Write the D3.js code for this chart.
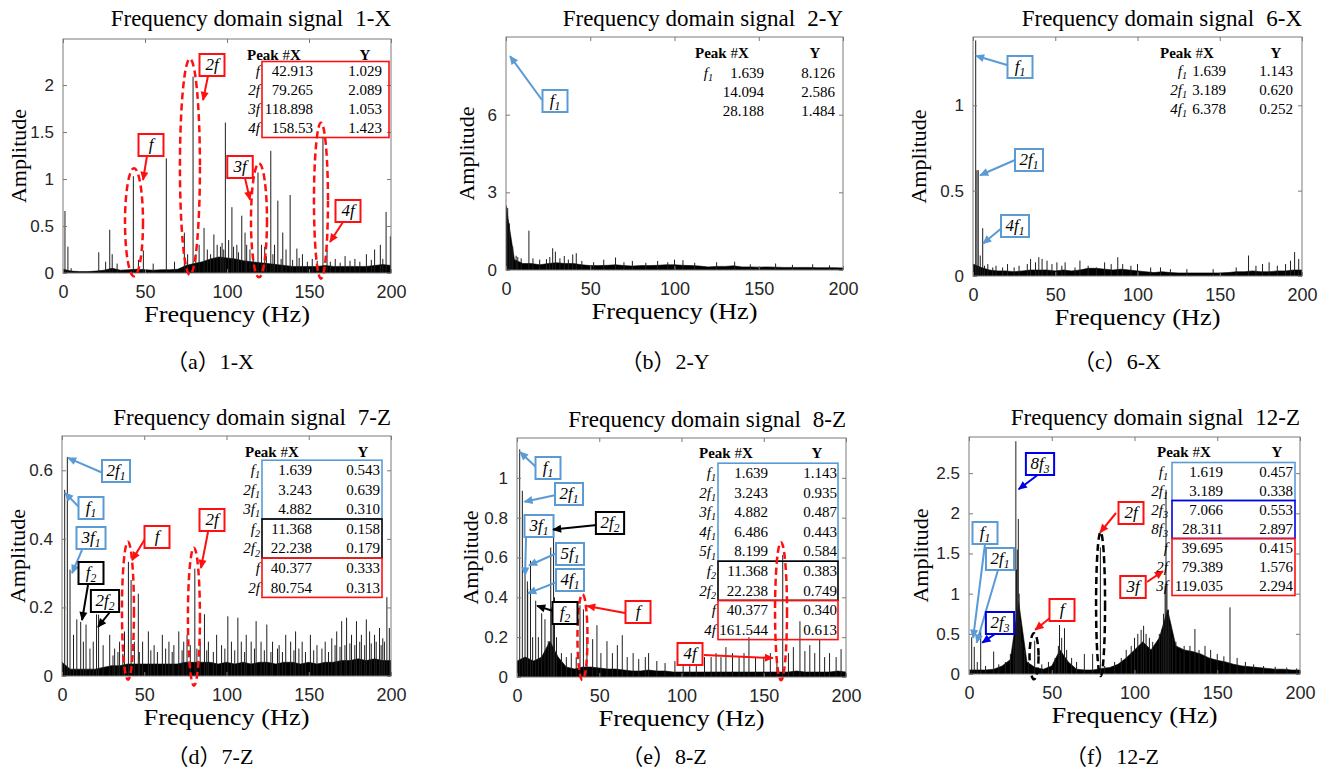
<!DOCTYPE html>
<html>
<head>
<meta charset="utf-8">
<script src="https://cdn.jsdelivr.net/npm/d3@7"></script>
<style>
  body { margin: 0; background: #fff; }
  svg text { font-family: "Liberation Serif", "Times New Roman", serif; fill: #000; }
  .tick text { font-family: "Liberation Sans", Arial, sans-serif; fill: #262626; }
  .tick line { stroke: #7a7a7a; }
</style>
</head>
<body>
<svg id="chart" width="1325" height="774"></svg>
<script>
// ---------- data ----------
const xTicks = [0, 50, 100, 150, 200];
const gridHz = d3.range(0, 201, 5); // noise floor sampled every 5 Hz

// noise floor (solid part of the band), one value per 5 Hz
const floor1X = [0.04,0.02,0.015,0.015,0.02,0.03,0.05,0.03,0.035,0.04,0.035,0.03,0.035,0.035,0.04,0.08,0.1,0.12,0.15,0.17,0.16,0.15,0.13,0.12,0.11,0.1,0.09,0.08,0.07,0.07,0.07,0.07,0.08,0.07,0.07,0.07,0.07,0.07,0.08,0.09,0.08];
const floor2Y = [2.5,0.4,0.25,0.25,0.2,0.25,0.28,0.25,0.25,0.2,0.17,0.17,0.18,0.2,0.17,0.15,0.17,0.17,0.18,0.2,0.2,0.18,0.17,0.15,0.12,0.14,0.14,0.16,0.12,0.12,0.11,0.12,0.11,0.1,0.1,0.1,0.1,0.09,0.09,0.09,0.08];
const floor6X = [0.07,0.05,0.035,0.03,0.03,0.025,0.03,0.035,0.035,0.035,0.03,0.035,0.03,0.035,0.045,0.045,0.04,0.035,0.04,0.035,0.03,0.025,0.02,0.025,0.02,0.018,0.018,0.018,0.018,0.018,0.018,0.02,0.025,0.025,0.03,0.025,0.025,0.03,0.03,0.035,0.035];
const floor7Z = [0.04,0.02,0.02,0.02,0.02,0.025,0.03,0.03,0.035,0.035,0.035,0.035,0.035,0.035,0.035,0.04,0.04,0.04,0.04,0.035,0.04,0.035,0.04,0.035,0.04,0.04,0.035,0.04,0.04,0.035,0.04,0.035,0.04,0.04,0.045,0.045,0.05,0.045,0.05,0.045,0.045];
const floor8Z = [0.08,0.1,0.08,0.1,0.18,0.1,0.05,0.04,0.05,0.05,0.045,0.04,0.04,0.035,0.03,0.03,0.035,0.03,0.03,0.025,0.025,0.025,0.025,0.025,0.025,0.025,0.025,0.025,0.025,0.025,0.025,0.025,0.025,0.025,0.03,0.025,0.025,0.025,0.025,0.03,0.025];
const floor12Z = [0.05,0.05,0.05,0.06,0.1,0.18,0.9,0.15,0.08,0.06,0.1,0.3,0.15,0.06,0.05,0.05,0.07,0.08,0.12,0.2,0.3,0.4,0.3,0.45,0.8,0.35,0.3,0.28,0.25,0.2,0.17,0.15,0.12,0.1,0.09,0.08,0.07,0.06,0.06,0.05,0.05];

// spectral lines [frequency Hz, amplitude]
const spikes1X = [[1.2,0.66],[3,0.28],[5,0.05],[21.8,0.22],[26,0.12],[28.5,0.46],[30,0.2],[33,0.1],[42.9,1.03],[46,0.14],[49,0.24],[55,0.1],[63,1.22],[68,0.12],[74,0.43],[76,0.2],[79.3,2.09],[81,0.2],[83,0.3],[86,0.48],[88,0.25],[90,0.2],[92,0.41],[94,0.3],[96,0.28],[97,0.32],[98,0.25],[99,1.6],[101,0.35],[103,0.7],[104,0.28],[106,0.3],[107,0.22],[109,0.61],[111,0.43],[112,0.3],[114,0.25],[116,0.2],[118.9,1.07],[121,0.3],[123,0.28],[124,0.18],[126.7,1.3],[128,0.2],[129,0.3],[131,0.77],[133,0.15],[134,0.43],[136,0.25],[138.5,0.83],[140,0.14],[142.6,0.26],[144,0.16],[146,0.2],[149,0.12],[152,0.15],[155,0.13],[158.5,1.45],[161,0.25],[163,0.12],[166,0.15],[169,0.11],[172,0.18],[175,0.13],[178,0.15],[181,0.12],[185,0.2],[188,0.14],[190,0.25],[193.5,0.3],[195,0.15],[197,0.65],[199.6,0.39]];
const spikes2Y = [[1,2.4],[2,1.8],[3,0.95],[4,0.9],[6,0.55],[7,0.5],[9,0.45],[13.6,1.52],[16,0.45],[20,0.4],[24,0.42],[26,0.5],[27.7,0.84],[29.3,0.71],[32,0.45],[34.6,0.54],[37,0.4],[39.6,0.6],[41.7,0.65],[45,0.35],[52,0.3],[58,0.4],[65,0.48],[70,0.3],[75,0.35],[83,0.28],[90,0.35],[96,0.3],[100,0.4],[105,0.38],[112,0.28],[125,0.3],[135.7,0.32],[145,0.22],[160,0.25],[170,0.2],[182,0.22],[192,0.18]];
const spikes6X = [[1.639,1.38],[2.4,0.62],[3.189,0.62],[4.4,0.12],[5.9,0.28],[7,0.06],[9,0.07],[12,0.05],[14,0.06],[18,0.05],[21,0.07],[25,0.05],[28,0.06],[33,0.07],[35,0.1],[38,0.08],[40,0.11],[42,0.1],[45,0.09],[48,0.07],[51,0.08],[54,0.06],[56,0.08],[62,0.05],[65,0.09],[70,0.06],[75,0.05],[80,0.08],[84,0.07],[88,0.11],[91,0.07],[96,0.06],[100,0.07],[108,0.05],[114,0.05],[120,0.04],[130,0.04],[146,0.04],[160,0.05],[167.5,0.12],[172,0.06],[176,0.07],[180,0.08],[185,0.06],[190,0.07],[193,0.09],[195.5,0.14],[198,0.1]];
const spikes7Z = [[1.639,0.543],[3.243,0.639],[4.882,0.31],[7,0.12],[9,0.165],[11.368,0.158],[13,0.1],[14.6,0.15],[17,0.08],[19,0.1],[21,0.18],[22.238,0.179],[25,0.09],[29,0.12],[31,0.06],[32,0.08],[34,0.07],[35,0.1],[37,0.065],[38,0.13],[40.377,0.333],[42,0.28],[44,0.1],[46.4,0.24],[47,0.07],[49,0.1],[52.5,0.13],[54,0.075],[56,0.09],[58,0.07],[61,0.12],[63,0.08],[65,0.1],[67,0.07],[68,0.09],[71,0.13],[73,0.075],[74,0.1],[76,0.12],[78,0.09],[80.754,0.313],[82,0.08],[84,0.1],[86.6,0.18],[88,0.075],[89,0.1],[92,0.07],[94,0.12],[97,0.09],[99,0.08],[100.8,0.174],[103,0.1],[105,0.075],[106.9,0.17],[109,0.1],[111,0.07],[112,0.12],[115,0.1],[117,0.08],[118,0.16],[121,0.1],[123,0.075],[124.5,0.15],[127,0.07],[128,0.1],[131,0.08],[132,0.09],[134,0.07],[136,0.12],[139,0.1],[141,0.075],[142,0.13],[144,0.08],[146,0.1],[148,0.07],[151,0.12],[153,0.075],[155,0.09],[158,0.08],[160,0.1],[162,0.07],[164,0.11],[166,0.09],[167,0.13],[169,0.085],[170,0.16],[172,0.09],[173,0.17],[175,0.095],[176,0.12],[178,0.09],[179,0.16],[181,0.1],[182,0.12],[184,0.09],[185,0.165],[187,0.13],[188,0.095],[190,0.12],[191,0.1],[193,0.14],[194,0.09],[195,0.11],[196,0.1],[197.5,0.23],[199,0.14]];
const spikes8Z = [[1.639,1.143],[3.243,0.935],[4.882,0.52],[6.3,0.48],[6.486,0.443],[8.199,0.584],[9.5,0.2],[11.368,0.383],[13,0.2],[15,0.32],[17,0.29],[19,0.18],[20.5,0.65],[21.2,0.35],[22.238,0.749],[22.8,0.4],[24,0.2],[27,0.12],[30,0.1],[33,0.12],[36,0.1],[38.3,0.36],[40.377,0.34],[42.5,0.2],[46,0.19],[48.6,0.26],[51,0.12],[54.7,0.18],[58,0.12],[61,0.16],[64,0.21],[67,0.1],[70.6,0.12],[74,0.09],[78,0.1],[80,0.12],[85,0.08],[90,0.07],[96,0.08],[101,0.11],[105,0.08],[109,0.09],[114,0.1],[118,0.1],[121,0.12],[124,0.1],[127,0.15],[131,0.12],[135,0.1],[138,0.12],[141,0.2],[145,0.1],[150,0.1],[154,0.12],[158,0.1],[161.544,0.613],[165,0.12],[168,0.15],[172,0.28],[175,0.13],[178,0.16],[181,0.12],[184,0.19],[187,0.1],[190,0.12],[194,0.1],[197,0.14]];
const spikes12Z = [[1.619,0.457],[3.189,0.338],[5,0.15],[7.066,0.553],[10,0.1],[14.9,0.28],[18,0.12],[22,0.15],[25,0.25],[27,0.4],[28,0.6],[28.311,2.897],[28.7,1.3],[29.2,1.55],[29.8,1.93],[30.3,1.0],[31,0.65],[32,0.4],[33.5,0.3],[36,0.15],[39.695,0.415],[44,0.12],[48,0.15],[52,0.2],[54,0.35],[54.7,0.61],[56,0.45],[57.7,0.57],[59,0.3],[62,0.2],[65,0.15],[69.7,0.25],[74.7,0.25],[79.389,1.576],[82,0.1],[88,0.15],[92,0.2],[95,0.3],[98,0.35],[100,0.45],[102,0.5],[104,0.55],[105.5,0.6],[107,0.5],[109,0.45],[111,0.4],[113,0.35],[115,0.5],[116.5,0.55],[117.5,0.75],[118.5,1.1],[119.035,2.294],[119.6,1.12],[120.5,0.8],[121.5,0.6],[123,0.45],[125,0.4],[127.5,0.28],[130,0.35],[133.5,0.35],[136.5,0.56],[139,0.3],[142.6,0.35],[146,0.3],[150,0.25],[154,0.22],[157.7,0.83],[162,0.2],[167,0.15],[172,0.12],[178,0.1],[185,0.09],[192,0.08],[198,0.07]];

// peak tables ("_" marks a subscript)
const peakLab1X = ["f","2f","3f","4f"];
const peakX1X = ["42.913","79.265","118.898","158.53"];
const peakY1X = ["1.029","2.089","1.053","1.423"];
const peakLab2Y = ["f_1","",""];
const peakX2Y = ["1.639","14.094","28.188"];
const peakY2Y = ["8.126","2.586","1.484"];
const peakLab6X = ["f_1","2f_1","4f_1"];
const peakX6X = ["1.639","3.189","6.378"];
const peakY6X = ["1.143","0.620","0.252"];
const peakLab7Z = ["f_1","2f_1","3f_1","f_2","2f_2","f","2f"];
const peakX7Z = ["1.639","3.243","4.882","11.368","22.238","40.377","80.754"];
const peakY7Z = ["0.543","0.639","0.310","0.158","0.179","0.333","0.313"];
const peakLab8Z = ["f_1","2f_1","3f_1","4f_1","5f_1","f_2","2f_2","f","4f"];
const peakX8Z = ["1.639","3.243","4.882","6.486","8.199","11.368","22.238","40.377","161.544"];
const peakY8Z = ["1.143","0.935","0.487","0.443","0.584","0.383","0.749","0.340","0.613"];
const peakLab12Z = ["f_1","2f_1","2f_3","8f_3","f","2f","3f"];
const peakX12Z = ["1.619","3.189","7.066","28.311","39.695","79.389","119.035"];
const peakY12Z = ["0.457","0.338","0.553","2.897","0.415","1.576","2.294"];

// ---------- styling / layout ----------
const RED = "#ff1010", LBLUE = "#5b9bd5", DBLUE = "#0000e6", BLACK = "#000";

// annotation boxes: box centre (px from plot origin), arrow start (px), arrow tip (Hz, amplitude)
const notes1X = [
  {t:"f", c:RED, bx:88, by:106, sx:84, sy:117, tf:48.8, ta:0.99},
  {t:"2f", c:RED, bx:149, by:26, sx:145, sy:37, tf:85.4, ta:1.84},
  {t:"3f", c:RED, bx:177, by:128, sx:182, sy:139, tf:114, ta:0.78},
  {t:"4f", c:RED, bx:285, by:172, sx:280, sy:183, tf:162.8, ta:0.33}
];
const rings1X = [
  {c:RED, f:43.3, a:0.54, rx:9, ry:54}, {c:RED, f:77.4, a:1.13, rx:10, ry:108},
  {c:RED, f:119.5, a:0.56, rx:8, ry:57}, {c:RED, f:157.3, a:0.77, rx:7, ry:78}
];
const notes2Y = [{t:"f_1", c:LBLUE, bx:49, by:64, sx:36, sy:63, tf:2.4, ta:8.26}];
const notes6X = [
  {t:"f_1", c:LBLUE, bx:47, by:30, sx:34, sy:28, tf:1.8, ta:1.29},
  {t:"2f_1", c:LBLUE, bx:56, by:123, sx:42, sy:123, tf:4.3, ta:0.59},
  {t:"4f_1", c:LBLUE, bx:42, by:189, sx:30, sy:190, tf:6.1, ta:0.19}
];
const notes7Z = [
  {t:"2f_1", c:LBLUE, bx:54, by:35, sx:41, sy:37, tf:3.6, ta:0.636},
  {t:"f_1", c:LBLUE, bx:29, by:72, sx:17, sy:71, tf:1.8, ta:0.534},
  {t:"3f_1", c:LBLUE, bx:29, by:102, sx:20, sy:114, tf:6.1, ta:0.30},
  {t:"f_2", c:BLACK, bx:29, by:137, sx:26, sy:149, tf:12.2, ta:0.163},
  {t:"2f_2", c:BLACK, bx:43, by:165, sx:48, sy:176, tf:21.9, ta:0.143},
  {t:"f", c:RED, bx:95, by:101, sx:83, sy:103, tf:42.6, ta:0.338},
  {t:"2f", c:RED, bx:150, by:84, sx:146, sy:96, tf:84.5, ta:0.315}
];
const rings7Z = [{c:RED, f:40.1, a:0.19, rx:6, ry:69}, {c:RED, f:80.2, a:0.173, rx:6, ry:69}];
const notes8Z = [
  {t:"f_1", c:LBLUE, bx:31, by:30, sx:19, sy:29, tf:1.8, ta:1.13},
  {t:"2f_1", c:LBLUE, bx:52, by:56, sx:39, sy:57, tf:4.5, ta:0.88},
  {t:"3f_1", c:LBLUE, bx:22, by:88, sx:9, sy:100, tf:4.9, ta:0.51},
  {t:"5f_1", c:LBLUE, bx:53, by:116, sx:40, sy:115, tf:7.3, ta:0.56},
  {t:"4f_1", c:LBLUE, bx:53, by:142, sx:40, sy:144, tf:6.7, ta:0.42},
  {t:"2f_2", c:BLACK, bx:93, by:85, sx:80, sy:87, tf:21.9, ta:0.74},
  {t:"f_2", c:BLACK, bx:48, by:175, sx:36, sy:173, tf:12.2, ta:0.357},
  {t:"f", c:RED, bx:121, by:174, sx:108, sy:175, tf:42.6, ta:0.357},
  {t:"4f", c:RED, bx:173, by:216, sx:187, sy:217, tf:155.6, ta:0.095}
];
const rings8Z = [{c:RED, f:39.8, a:0.20, rx:5, ry:43}, {c:RED, f:160.5, a:0.33, rx:6, ry:69}];
const notes12Z = [
  {t:"8f_3", c:DBLUE, bx:71, by:27, sx:70, sy:37, tf:30, ta:2.30},
  {t:"f_1", c:LBLUE, bx:16, by:96, sx:16, sy:107, tf:2.5, ta:0.45},
  {t:"2f_1", c:LBLUE, bx:31, by:122, sx:29, sy:133, tf:4.6, ta:0.39},
  {t:"2f_3", c:DBLUE, bx:31, by:186, sx:26, sy:197, tf:8.0, ta:0.39},
  {t:"f", c:RED, bx:93, by:173, sx:86, sy:177, tf:40, ta:0.55},
  {t:"2f", c:RED, bx:162, by:76, sx:147, sy:76, tf:79.2, ta:1.76},
  {t:"3f", c:RED, bx:164, by:150, sx:178, sy:145, tf:117.2, ta:1.28}
];
const rings12Z = [{c:BLACK, f:39.3, a:0.22, rx:4.5, ry:23}, {c:BLACK, f:79.5, a:0.87, rx:4.5, ry:72}];

const panels = [
  {key:"a", left:63, top:39, width:328, height:234, ymax:2.49, yticks:[0,0.5,1,1.5,2], name:"1-X", titleY:26, ylabOff:45,
   caption:"（a）1-X", capX:210, capY:369, floor:floor1X, spikes:spikes1X, notes:notes1X, rings:rings1X,
   table:{lab:peakLab1X, xs:peakX1X, ys:peakY1X, headX:184, yHeadX:302, labelR:197, xR:250, yR:319, headY:16, row0:32, step:19, boxL:199, boxR:326, groups:[{c:RED, from:0, to:3}]}},
  {key:"b", left:506, top:37, width:337, height:233, ymax:9, yticks:[0,3,6], name:"2-Y", titleY:26, ylabOff:40,
   caption:"（b）2-Y", capX:665, capY:369, floor:floor2Y, spikes:spikes2Y, notes:notes2Y, rings:[],
   table:{lab:peakLab2Y, xs:peakX2Y, ys:peakY2Y, headX:189, yHeadX:309, labelR:207, xR:258, yR:329, headY:16, row0:36, step:19, groups:[]}},
  {key:"c", left:973, top:37, width:329, height:239, ymax:1.4, yticks:[0,0.5,1], name:"6-X", titleY:26, ylabOff:55,
   caption:"（c）6-X", capX:1117, capY:369, floor:floor6X, spikes:spikes6X, notes:notes6X, rings:[],
   table:{lab:peakLab6X, xs:peakX6X, ys:peakY6X, headX:187, yHeadX:303, labelR:214, xR:253, yR:320, headY:16, row0:34, step:19, groups:[]}},
  {key:"d", left:62, top:436, width:329, height:240, ymax:0.7, yticks:[0,0.2,0.4,0.6], name:"7-Z", titleY:425, ylabOff:45,
   caption:"（d）7-Z", capX:210, capY:764, floor:floor7Z, spikes:spikes7Z, notes:notes7Z, rings:rings7Z,
   table:{lab:peakLab7Z, xs:peakX7Z, ys:peakY7Z, headX:183, yHeadX:301, labelR:198, xR:250, yR:318, headY:16, row0:34, step:19.6, boxL:200, boxR:320,
          groups:[{c:LBLUE, from:0, to:2}, {c:BLACK, from:3, to:4}, {c:RED, from:5, to:6}]}},
  {key:"e", left:517, top:438, width:329, height:239, ymax:1.2, yticks:[0,0.2,0.4,0.6,0.8,1], name:"8-Z", titleY:427, ylabOff:47,
   caption:"（e）8-Z", capX:664, capY:764, floor:floor8Z, spikes:spikes8Z, notes:notes8Z, rings:rings8Z,
   table:{lab:peakLab8Z, xs:peakX8Z, ys:peakY8Z, headX:182, yHeadX:300, labelR:199, xR:251, yR:320, headY:15, row0:35, step:19.6, boxL:201, boxR:321,
          groups:[{c:LBLUE, from:0, to:4}, {c:BLACK, from:5, to:6}, {c:RED, from:7, to:8}]}},
  {key:"f", left:969, top:437, width:331, height:237, ymax:2.95, yticks:[0,0.5,1,1.5,2,2.5], name:"12-Z", titleY:425, ylabOff:49,
   caption:"（f）12-Z", capX:1112, capY:764, floor:floor12Z, spikes:spikes12Z, notes:notes12Z, rings:rings12Z,
   table:{lab:peakLab12Z, xs:peakX12Z, ys:peakY12Z, headX:188, yHeadX:308, labelR:199, xR:254, yR:324, headY:15, row0:35, step:19, boxL:203, boxR:326,
          groups:[{c:LBLUE, from:0, to:1}, {c:DBLUE, from:2, to:3}, {c:RED, from:4, to:6}]}}
];

// ---------- drawing ----------
const svg = d3.select("#chart");
svg.append("rect").attr("width", 1325).attr("height", 774).attr("fill", "#fff");
const defs = svg.append("defs");

// arrow heads, one per colour
[RED, LBLUE, DBLUE, BLACK].forEach(c => {
  defs.append("marker")
    .attr("id", "arr" + c.replace("#", ""))
    .attr("viewBox", "0 0 10 10")
    .attr("refX", 9).attr("refY", 5)
    .attr("markerWidth", 10).attr("markerHeight", 9)
    .attr("markerUnits", "userSpaceOnUse")
    .attr("orient", "auto")
    .append("path").attr("d", "M0,0.5 L10,5 L0,9.5 z").attr("fill", c);
});

// italic label with an optional subscript, e.g. "2f_1"
function richText(text, str) {
  const parts = str.split("_");
  text.append("tspan").text(parts[0]);
  if (parts[1]) text.append("tspan").attr("font-size", "0.68em").attr("dy", "0.32em").text(parts[1]);
}

function drawPanel(p) {
  const g = svg.append("g").attr("transform", `translate(${p.left},${p.top})`);
  const x = d3.scaleLinear().domain([0, 200]).range([0, p.width]);
  const y = d3.scaleLinear().domain([0, p.ymax]).range([p.height, 0]);

  const clipId = "clip" + p.key;
  defs.append("clipPath").attr("id", clipId)
    .append("rect").attr("width", p.width).attr("height", p.height);
  const plot = g.append("g").attr("clip-path", `url(#${clipId})`);

  // noise floor band
  plot.append("path")
    .datum(p.floor)
    .attr("d", d3.area().x((d, i) => x(gridHz[i])).y0(y(0)).y1(d => y(d)))
    .attr("fill", "#000").attr("stroke", "#000").attr("stroke-width", 0.6);

  // spectral lines
  plot.selectAll(".spike")
    .data(p.spikes)
    .join("line")
    .attr("class", "spike")
    .attr("x1", d => x(d[0])).attr("x2", d => x(d[0]))
    .attr("y1", y(0)).attr("y2", d => y(d[1]))
    .attr("stroke", "#1e1e1e").attr("stroke-width", 1);

  // axes: ticks point inwards on all four sides (MATLAB box style)
  g.append("g").attr("transform", `translate(0,${p.height})`)
    .call(d3.axisBottom(x).tickValues(xTicks).tickSize(-4).tickPadding(12).tickFormat(d => d))
    .call(a => a.select(".domain").remove())
    .selectAll("text").style("font-size", "18px");
  g.append("g")
    .call(d3.axisLeft(y).tickValues(p.yticks).tickSize(-4).tickPadding(9).tickFormat(d => d))
    .call(a => a.select(".domain").remove())
    .selectAll("text").style("font-size", "17px");
  g.append("g")
    .call(d3.axisTop(x).tickValues(xTicks).tickSize(-4).tickFormat(""))
    .call(a => a.select(".domain").remove());
  g.append("g").attr("transform", `translate(${p.width},0)`)
    .call(d3.axisRight(y).tickValues(p.yticks).tickSize(-4).tickFormat(""))
    .call(a => a.select(".domain").remove());
  g.append("rect").attr("width", p.width).attr("height", p.height)
    .attr("fill", "none").attr("stroke", "#7a7a7a").attr("stroke-width", 1);

  // title, axis labels, caption
  const title = g.append("text")
    .attr("x", p.width).attr("y", p.titleY - p.top)
    .attr("text-anchor", "end").style("font-size", "23px");
  title.append("tspan").text("Frequency domain signal");
  title.append("tspan").attr("dx", 12).text(p.name);

  g.append("text")
    .attr("x", p.width / 2).attr("y", p.height + 49)
    .attr("text-anchor", "middle").style("font-size", "24px")
    .attr("textLength", 166).attr("lengthAdjust", "spacingAndGlyphs")
    .text("Frequency (Hz)");
  g.append("text")
    .attr("transform", `translate(${-p.ylabOff},${p.height / 2}) rotate(-90)`)
    .attr("text-anchor", "middle").attr("dy", "0.35em").style("font-size", "22px")
    .text("Amplitude");
  svg.append("text")
    .attr("x", p.capX).attr("y", p.capY)
    .attr("text-anchor", "middle")
    .style("font-family", "\"Liberation Serif\", \"Noto Sans CJK SC\", serif")
    .style("font-size", "22px")
    .text(p.caption);

  drawTable(g, p.table);

  // dashed ellipses round the marked peaks
  g.selectAll(".ring")
    .data(p.rings)
    .join("ellipse")
    .attr("class", "ring")
    .attr("cx", d => x(d.f)).attr("cy", d => y(d.a))
    .attr("rx", d => d.rx).attr("ry", d => d.ry)
    .attr("fill", "none").attr("stroke", d => d.c)
    .attr("stroke-width", 2.5).attr("stroke-dasharray", "7,4");

  // labelled boxes with arrows
  p.notes.forEach(n => {
    g.append("line")
      .attr("x1", n.sx).attr("y1", n.sy)
      .attr("x2", x(n.tf)).attr("y2", y(n.ta))
      .attr("stroke", n.c).attr("stroke-width", 2)
      .attr("marker-end", `url(#arr${n.c.replace("#", "")})`);
    const box = g.append("g");
    const rect = box.append("rect");
    const txt = box.append("text")
      .attr("x", n.bx).attr("y", n.by + 5)
      .attr("text-anchor", "middle")
      .style("font-size", "17px").style("font-style", "italic");
    richText(txt, n.t);
    const bb = txt.node().getBBox();
    const w = Math.max(25, bb.width + 9);
    rect.attr("x", n.bx - w / 2).attr("y", n.by - 11)
      .attr("width", w).attr("height", 22)
      .attr("fill", "#fff").attr("stroke", n.c).attr("stroke-width", 2);
  });
}

function drawTable(g, t) {
  const head = g.append("text").attr("x", t.headX).attr("y", t.headY + 5)
    .style("font-size", "15px").style("font-weight", "bold");
  head.append("tspan").text("Peak ");
  head.append("tspan").style("font-weight", "normal").text("#");
  head.append("tspan").text("X");
  g.append("text").attr("x", t.yHeadX).attr("y", t.headY + 5)
    .attr("text-anchor", "middle").style("font-size", "15px").style("font-weight", "bold")
    .text("Y");

  t.lab.forEach((lab, i) => {
    const cy = t.row0 + i * t.step + 5;
    const lt = g.append("text").attr("x", t.labelR).attr("y", cy)
      .attr("text-anchor", "end").style("font-size", "15px").style("font-style", "italic");
    richText(lt, lab);
    g.append("text").attr("x", t.xR).attr("y", cy).attr("text-anchor", "end")
      .style("font-size", "15px").text(t.xs[i]);
    g.append("text").attr("x", t.yR).attr("y", cy).attr("text-anchor", "end")
      .style("font-size", "15px").text(t.ys[i]);
  });

  t.groups.forEach(gr => {
    const y0 = t.row0 + gr.from * t.step - t.step / 2;
    const y1 = t.row0 + gr.to * t.step + t.step / 2;
    g.append("rect")
      .attr("x", t.boxL).attr("y", y0)
      .attr("width", t.boxR - t.boxL).attr("height", y1 - y0)
      .attr("fill", "none").attr("stroke", gr.c).attr("stroke-width", 1.6);
  });
}

panels.forEach(drawPanel);
</script>
</body>
</html>
